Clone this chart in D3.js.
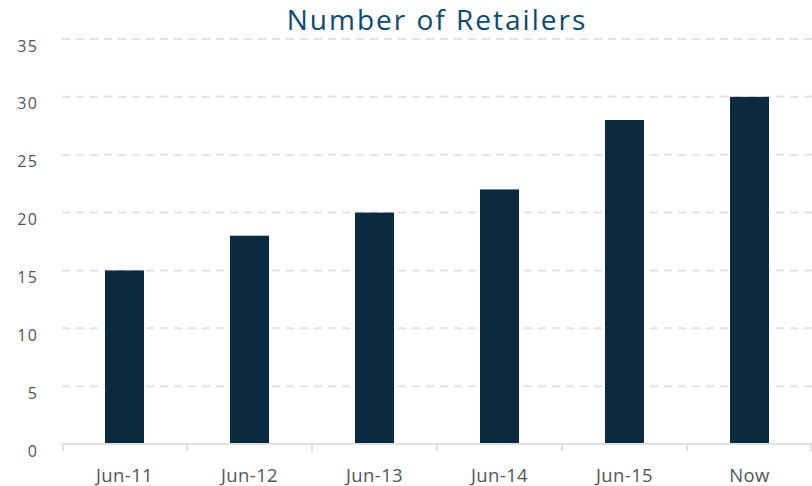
<!DOCTYPE html>
<html>
<head>
<meta charset="utf-8">
<script src="https://cdn.jsdelivr.net/npm/d3@7"></script>
<style>
  html, body { margin: 0; padding: 0; background: #fff; }
  svg { display: block; }
</style>
</head>
<body>
<svg id="chart" width="812" height="486"></svg>
<script>
const categories = ["Jun-11", "Jun-12", "Jun-13", "Jun-14", "Jun-15", "Now"];
const retailers = [15, 18, 20, 22, 28, 30];
const yTicks = [0, 5, 10, 15, 20, 25, 30, 35];
const title = "Number of Retailers";

const svg = d3.select("#chart");
const W = 812, H = 486;
const margin = { top: 39, right: 0, bottom: 42, left: 62 };
const innerW = W - margin.left - margin.right;
const innerH = H - margin.top - margin.bottom;
const labelFont = "'Open Sans', 'Noto Sans', sans-serif";

const x = d3.scaleBand().domain(categories).range([0, innerW])
  .paddingInner(0.688).paddingOuter(0.344);
const y = d3.scaleLinear().domain([0, 35]).range([innerH, 0]);

const g = svg.append("g").attr("transform", `translate(${margin.left},${margin.top})`);

// dashed horizontal gridlines
g.append("g").selectAll("line").data(yTicks.filter(d => d > 0)).join("line")
  .attr("x1", 0).attr("x2", innerW)
  .attr("y1", d => y(d)).attr("y2", d => y(d))
  .attr("stroke", "#e3e3e3").attr("stroke-width", 2)
  .attr("stroke-dasharray", "8,6");

// y-axis labels, hanging just below their gridline
const yAxis = d3.axisLeft(y).tickValues(yTicks).tickSize(0).tickPadding(24);
const yg = g.append("g").call(yAxis);
yg.select(".domain").remove();
yg.selectAll("text")
  .attr("y", 12).attr("dy", 0)
  .attr("font-family", labelFont)
  .attr("font-size", 16)
  .attr("letter-spacing", 1.2)
  .attr("fill", "#555");

// bars
g.append("g").selectAll("rect").data(retailers).join("rect")
  .attr("x", (d, i) => x(categories[i]))
  .attr("y", d => y(d))
  .attr("width", x.bandwidth())
  .attr("height", d => innerH - y(d))
  .attr("fill", "#0a2a40");

// x axis: baseline with ticks at band boundaries
const bounds = categories.map(c => x(c) - x.step() * x.paddingInner() / 2);
bounds.push(innerW);
const axisG = g.append("g").attr("transform", `translate(0,${innerH})`);
axisG.append("line").attr("x1", 0).attr("x2", innerW).attr("y1", 0).attr("y2", 0)
  .attr("stroke", "#e0e0e0").attr("stroke-width", 2);
axisG.selectAll("line.tk").data(bounds).join("line").attr("class", "tk")
  .attr("x1", d => Math.min(Math.max(d, 1), innerW - 1))
  .attr("x2", d => Math.min(Math.max(d, 1), innerW - 1))
  .attr("y1", 0).attr("y2", 7)
  .attr("stroke", "#e0e0e0").attr("stroke-width", 2);

const xAxis = d3.axisBottom(x).tickSize(0).tickPadding(0);
const xg = axisG.append("g").call(xAxis);
xg.select(".domain").remove();
xg.selectAll("text")
  .attr("y", 38).attr("dy", 0)
  .attr("font-family", labelFont)
  .attr("font-size", 18.5)
  .attr("letter-spacing", 0.4)
  .attr("fill", "#555");

// title
svg.append("text")
  .attr("x", margin.left + innerW / 2).attr("y", 30)
  .attr("text-anchor", "middle")
  .attr("font-family", labelFont)
  .attr("font-size", 28)
  .attr("font-weight", 500)
  .attr("letter-spacing", 2)
  .attr("fill", "#0d4a6e")
  .text(title);
</script>
</body>
</html>
